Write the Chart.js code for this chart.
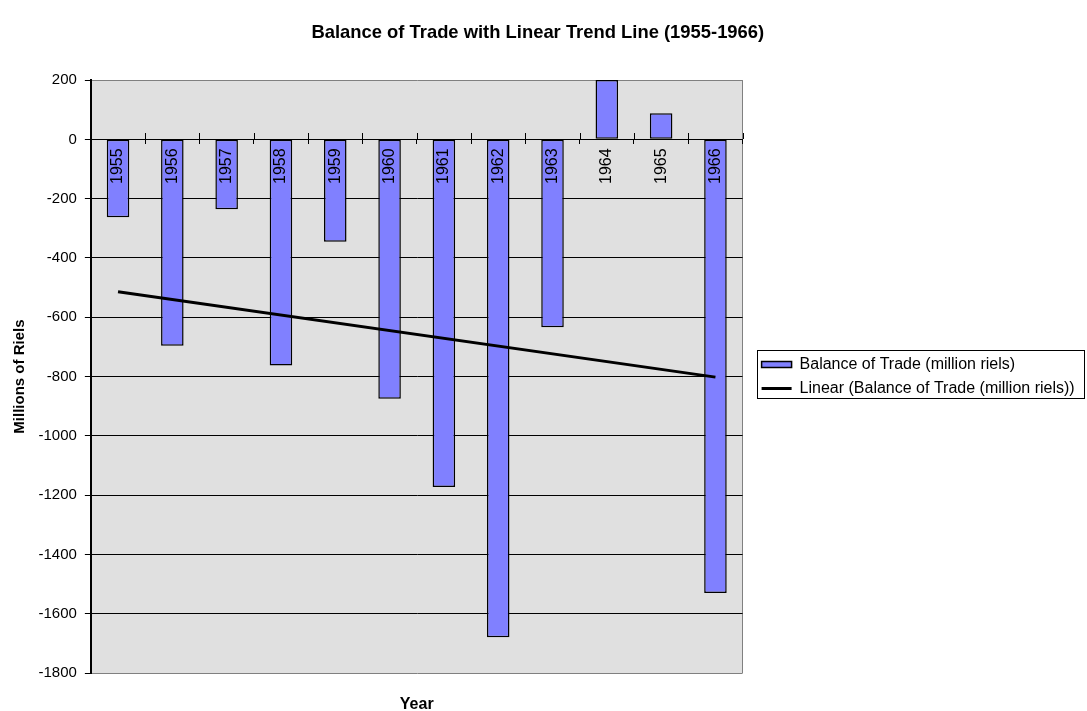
<!DOCTYPE html>
<html><head><meta charset="utf-8">
<script src="https://cdn.jsdelivr.net/npm/chart.js@4"></script>
<style>html,body{margin:0;padding:0;background:#fff;}canvas{display:block;}</style>
</head><body>
<canvas id="c" width="1087" height="711"></canvas>
<script>
// ---- data ----
const years = ['1955','1956','1957','1958','1959','1960','1961','1962','1963','1964','1965','1966'];
const balance = [-263, -696, -236, -763, -345, -875, -1173, -1679, -634, 200, 88, -1530];
// trend line end points (gaps spanned)
const trendLine = [-514, null, null, null, null, null, null, null, null, null, null, -802];
const yMin = -1800, yMax = 200, yStep = 200;
const barLabel = 'Balance of Trade (million riels)';
const trendLabel = 'Linear (Balance of Trade (million riels))';

const FONT = "'Liberation Sans', Arial, Helvetica, sans-serif";
Chart.defaults.font.family = FONT;
Chart.defaults.color = '#000';

const plotBg = {
  id: 'plotBg',
  beforeDraw(chart) {
    const {ctx, chartArea: a} = chart;
    ctx.save();
    ctx.fillStyle = '#E0E0E0';
    ctx.fillRect(a.left, a.top, a.width, a.height);
    ctx.strokeStyle = '#808080';
    ctx.lineWidth = 1;
    ctx.beginPath();
    ctx.moveTo(Math.round(a.right) - 0.5, a.top);
    ctx.lineTo(Math.round(a.right) - 0.5, a.bottom);
    ctx.stroke();
    ctx.restore();
  }
};

const crossTicks = {
  id: 'crossTicks',
  beforeDatasetsDraw(chart) {
    const {ctx} = chart;
    const xs = chart.scales.x, ys = chart.scales.y;
    const y0 = Math.round(ys.getPixelForValue(0));
    const half = (xs.getPixelForValue(1) - xs.getPixelForValue(0)) / 2;
    ctx.save();
    ctx.strokeStyle = '#000';
    ctx.lineWidth = 1;
    ctx.beginPath();
    for (let i = 0; i <= years.length; i++) {
      const px = Math.round(xs.getPixelForValue(i) - half) + 0.5;
      ctx.moveTo(px, y0 - 6);
      ctx.lineTo(px, y0);
    }
    ctx.stroke();
    ctx.restore();
  }
};

const legendBox = {
  id: 'legendBox',
  afterDraw(chart) {
    const hb = chart.legend && chart.legend.legendHitBoxes;
    if (!hb || !hb.length) return;
    const {ctx} = chart;
    const l = Math.min(...hb.map(b => b.left)) - 5;
    const t = Math.min(...hb.map(b => b.top)) - 7;
    const r = Math.max(...hb.map(b => b.left + b.width)) + 9;
    const bt = Math.max(...hb.map(b => b.top + b.height)) + 1;
    ctx.save();
    ctx.strokeStyle = '#000';
    ctx.lineWidth = 1;
    ctx.strokeRect(Math.round(l) + 0.5, Math.round(t) + 0.5, Math.round(r - l), Math.round(bt - t));
    ctx.restore();
  }
};

new Chart(document.getElementById('c'), {
  type: 'bar',
  data: {
    labels: years,
    datasets: [
      {
        type: 'line',
        label: trendLabel,
        data: trendLine,
        borderColor: '#000',
        backgroundColor: '#000',
        borderWidth: 3,
        pointRadius: 0,
        spanGaps: true,
        fill: false,
        tension: 0,
        order: 0
      },
      {
        type: 'bar',
        label: barLabel,
        data: balance,
        backgroundColor: '#8080FF',
        borderColor: '#000',
        borderWidth: 1.5,
        borderSkipped: false,
        barPercentage: 0.415,
        categoryPercentage: 1,
        order: 1
      }
    ]
  },
  options: {
    responsive: false,
    animation: false,
    events: [],
    layout: { padding: { left: 0, right: 11.4, top: 0, bottom: 0 } },
    plugins: {
      tooltip: { enabled: false },
      title: {
        display: true,
        text: 'Balance of Trade with Linear Trend Line (1955-1966)',
        font: { size: 18.4, weight: 'bold' },
        color: '#000',
        padding: { top: 22, bottom: 36 }
      },
      legend: {
        position: 'right',
        fullSize: false,
        align: 'center',
        maxWidth: 322,
        labels: {
          usePointStyle: true,
          pointStyleWidth: 30,
          boxHeight: 6,
          padding: 8,
          color: '#000',
          font: { size: 16 },
          generateLabels(chart) {
            const ds = chart.data.datasets;
            return [
              { text: ds[1].label, fillStyle: '#8080FF', strokeStyle: '#000', lineWidth: 1.5, pointStyle: 'rect', datasetIndex: 1, hidden: false, fontColor: '#000' },
              { text: ds[0].label, fillStyle: '#000', strokeStyle: '#000', lineWidth: 3, pointStyle: 'line', datasetIndex: 0, hidden: false, fontColor: '#000' }
            ];
          }
        }
      }
    },
    scales: {
      x: {
        type: 'category',
        position: { y: 0 },
        offset: true,
        ticks: { minRotation: 90, maxRotation: 90, autoSkip: false, font: { size: 16 }, padding: 5, z: 1, color: '#000' },
        grid: { offset: true, drawOnChartArea: false, drawTicks: true, tickLength: 4, color: '#000' },
        border: { color: '#000', width: 1 }
      },
      x2: {
        type: 'category',
        position: 'bottom',
        ticks: { display: false },
        grid: { display: false, drawTicks: false },
        border: { display: false },
        title: { display: true, text: 'Year', color: '#000', font: { size: 16, weight: 'bold' }, padding: { top: 21.9, bottom: -3.1 } }
      },
      y: {
        type: 'linear',
        position: 'left',
        min: yMin,
        max: yMax,
        ticks: { stepSize: yStep, font: { size: 15 }, padding: 8, color: '#000', callback: v => String(v) },
        grid: {
          color: c => (c.tick && (c.tick.value === yMax || c.tick.value === yMin)) ? '#808080' : '#000',
          tickColor: '#000',
          tickLength: 6,
          lineWidth: 1
        },
        border: { color: '#000', width: 2 },
        title: { display: true, text: 'Millions of Riels', color: '#000', font: { size: 15, weight: 'bold' }, padding: { top: 10.5, bottom: 2 } }
      },
      yR: {
        type: 'linear',
        position: 'right',
        display: true,
        ticks: { display: false },
        grid: { display: false, drawTicks: false },
        border: { display: false },
        afterFit(s) { s.width = 11; }
      }
    }
  },
  plugins: [plotBg, crossTicks, legendBox]
});
</script>
</body></html>
